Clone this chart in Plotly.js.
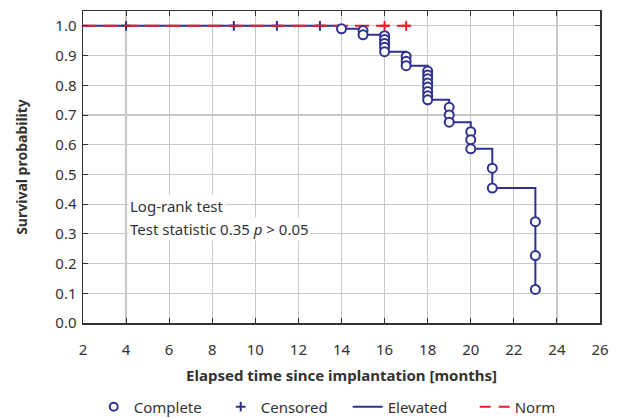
<!DOCTYPE html>
<html>
<head>
<meta charset="utf-8">
<script src="https://cdn.plot.ly/plotly-3.0.1.min.js"></script>
<style>html,body{margin:0;padding:0;background:#fff;}#chart{width:617px;height:418px;}</style>
</head>
<body>
<div id="chart"></div>
<script>
// Elevated group: Kaplan-Meier step curve
var elevStepTime = [0, 14, 15, 16, 17, 18, 19, 20, 21, 23];
var elevStepSurv = [1.0, 0.99, 0.970, 0.913, 0.866, 0.751, 0.676, 0.586, 0.454, 0.113];
// Elevated group: complete (event) marks
var completeTime = [14, 15, 15, 16, 16, 16, 16, 16, 17, 17, 17, 18, 18, 18, 18, 18, 18, 18, 18, 19, 19, 19, 20, 20, 20, 21, 21, 23, 23, 23];
var completeSurv = [0.99, 0.984, 0.970, 0.967, 0.954, 0.941, 0.928, 0.913, 0.897, 0.881, 0.866, 0.848, 0.835, 0.822, 0.808, 0.794, 0.779, 0.765, 0.751, 0.726, 0.700, 0.676, 0.644, 0.617, 0.586, 0.521, 0.454, 0.341, 0.227, 0.113];
// Elevated group: censored marks
var elevCensTime = [4, 9, 11, 13];
var elevCensSurv = [1.0, 1.0, 1.0, 1.0];
// Norm group
var normStepTime = [0, 17.2];
var normStepSurv = [1.0, 1.0];
var normCensTime = [16, 17];
var normCensSurv = [1.0, 1.0];
// Axis ticks
var xTicks = [2, 4, 6, 8, 10, 12, 14, 16, 18, 20, 22, 24, 26];
var yTicks = [0.0, 0.1, 0.2, 0.3, 0.4, 0.5, 0.6, 0.7, 0.8, 0.9, 1.0];
var yTickText = yTicks.map(function(v){return v.toFixed(1);});

var BLUE = '#2e3192';
var RED = '#ed1c24';

var traces = [
  {x: elevStepTime, y: elevStepSurv, mode: 'lines', line: {shape: 'hv', color: BLUE, width: 2}, showlegend: false, hoverinfo: 'skip'},
  {x: elevCensTime, y: elevCensSurv, mode: 'markers', marker: {symbol: 'cross-thin-open', size: 7, color: BLUE, line: {color: BLUE, width: 2}}, showlegend: false},
  {x: normStepTime, y: normStepSurv, mode: 'lines', line: {color: RED, width: 2, dash: '14px,7px'}, showlegend: false},
  {x: normCensTime, y: normCensSurv, mode: 'markers', marker: {symbol: 'cross-thin-open', size: 7, color: RED, line: {color: RED, width: 2}}, showlegend: false},
  {x: completeTime, y: completeSurv, mode: 'markers', marker: {symbol: 'circle', size: 9, color: '#fff', line: {color: BLUE, width: 2}}, showlegend: false},
  // legend entries
  {x: [null], y: [null], mode: 'markers', name: 'Complete', marker: {symbol: 'circle', size: 8, color: '#fff', line: {color: BLUE, width: 2}}},
  {x: [null], y: [null], mode: 'markers', name: 'Censored', marker: {symbol: 'cross-thin-open', size: 7, color: BLUE, line: {color: BLUE, width: 2}}},
  {x: [null], y: [null], mode: 'lines', name: 'Elevated', line: {color: BLUE, width: 2}},
  {x: [null], y: [null], mode: 'lines', name: 'Norm', line: {color: RED, width: 2, dash: '11px,8px'}}
];

var layout = {
  width: 617, height: 418,
  margin: {l: 83, r: 17, t: 11, b: 95, autoexpand: false},
  paper_bgcolor: '#fff', plot_bgcolor: '#fff',
  font: {family: 'Noto Sans, Open Sans, sans-serif', size: 14, color: '#333'},
  showlegend: true,
  legend: {orientation: 'h', x: 0.512, xanchor: 'center', y: -0.269, yanchor: 'middle', font: {size: 15, color: '#333'}, itemwidth: 30, traceorder: 'normal', entrywidth: 82},
  xaxis: {
    range: [2, 26], tickvals: xTicks, ticktext: xTicks.map(String),
    ticks: 'inside', ticklen: 5, tickcolor: '#333', tickwidth: 1,
    showline: true, linecolor: '#333', linewidth: 1.5, mirror: 'ticks',
    showgrid: true, gridcolor: '#c8c8c8', gridwidth: 1.2, zeroline: false,
    tickfont: {size: 15, color: '#333'}, ticklabelstandoff: 12,
    title: {text: '<b>Elapsed time since implantation [months]</b>', font: {size: 15, color: '#333'}, standoff: 13}
  },
  yaxis: {
    range: [0, 1.05], tickvals: yTicks, ticktext: yTickText,
    ticks: 'inside', ticklen: 5, tickcolor: '#333', tickwidth: 1,
    showline: true, linecolor: '#333', linewidth: 1.5, mirror: 'ticks',
    showgrid: true, gridcolor: '#c8c8c8', gridwidth: 1.2, zeroline: false,
    tickfont: {size: 15, color: '#333'}, ticklabelstandoff: 2,
    title: {text: '<b>Survival probability</b>', font: {size: 14, color: '#333'}, standoff: 24}
  },
  annotations: [
    {x: 4.1, y: 0.395, xref: 'x', yref: 'y', xanchor: 'left', yanchor: 'middle', showarrow: false, text: 'Log-rank test', font: {size: 15, color: '#333'}, bgcolor: '#fff'},
    {x: 4.1, y: 0.315, xref: 'x', yref: 'y', xanchor: 'left', yanchor: 'middle', showarrow: false, text: 'Test statistic 0.35 <i>p</i> > 0.05', font: {size: 15, color: '#333'}, bgcolor: '#fff'}
  ]
};

Plotly.newPlot('chart', traces, layout, {displayModeBar: false, staticPlot: true});
</script>
</body>
</html>
